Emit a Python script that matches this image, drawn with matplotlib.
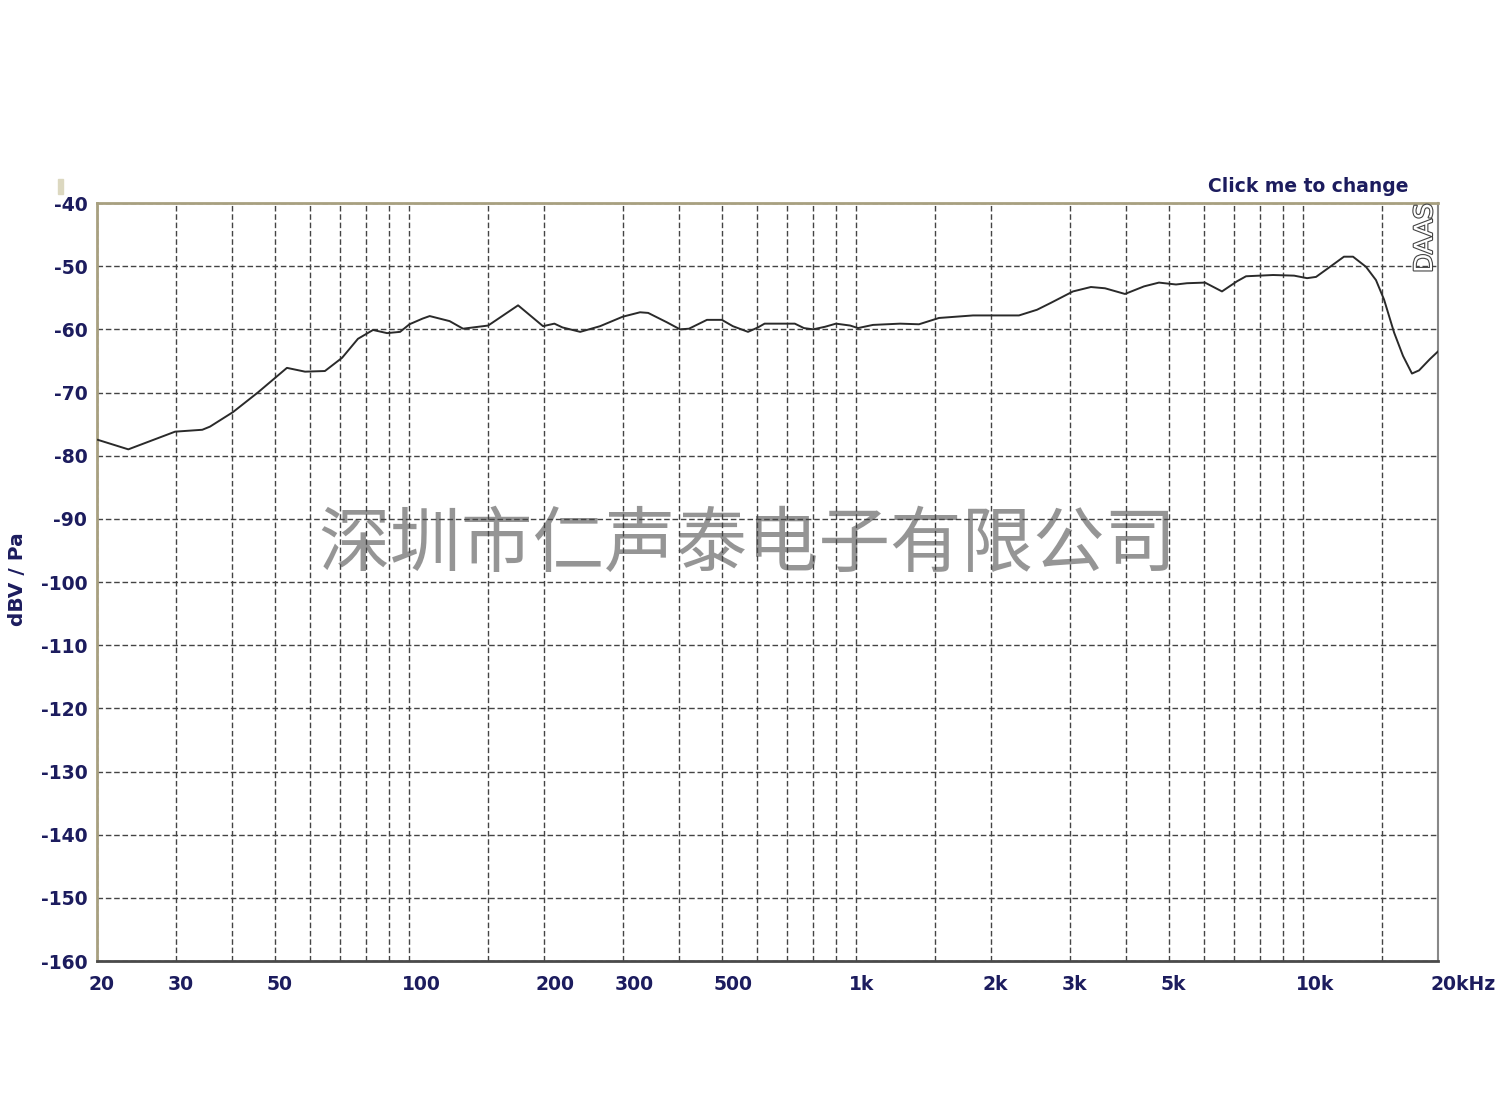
import numpy as np
import matplotlib
matplotlib.use("Agg")
import matplotlib.pyplot as plt
import matplotlib.transforms as mtransforms
import matplotlib.patheffects as pe
from matplotlib.patches import Rectangle

plt.rcParams['font.family'] = ['DejaVu Sans', 'Noto Sans CJK SC']

# response curve (Hz, dBV/Pa)
freq = [20.1, 23.5, 29.9, 34.4, 35.8, 40.3, 45.8, 53.2, 58.4, 64.7,
        70.7, 76.7, 82.9, 89.1, 95.3, 100, 107, 111, 123, 131.8,
        150, 175, 199, 211, 220, 241, 267, 300, 328, 342,
        377, 403, 422, 463, 500, 529, 572, 602, 623, 728,
        763, 800, 850, 900, 968, 1008, 1089, 1252, 1380, 1530,
        1823, 2310, 2535, 2724, 3051, 3346, 3598, 3988, 4399, 4751,
        5187, 5489, 6022, 6573, 7100, 7440, 8550, 9530, 10190, 10670,
        11470, 12320, 12910, 13800, 14530, 15150, 15950, 16700, 17490, 18140,
        19190, 20000]
level = [-77.5, -79.0, -76.2, -75.9, -75.4, -73.1, -70.0, -66.1, -66.7, -66.6,
         -64.5, -61.5, -60.1, -60.6, -60.4, -59.2, -58.3, -57.9, -58.7, -59.9,
         -59.4, -56.2, -59.5, -59.1, -59.7, -60.4, -59.5, -58.0, -57.3, -57.4,
         -58.9, -60.0, -59.9, -58.5, -58.5, -59.5, -60.4, -59.7, -59.1, -59.1,
         -59.8, -60.0, -59.6, -59.1, -59.4, -59.8, -59.3, -59.1, -59.2, -58.2,
         -57.8, -57.8, -56.9, -55.8, -54.0, -53.3, -53.5, -54.4, -53.2, -52.6,
         -52.9, -52.7, -52.6, -54.0, -52.4, -51.6, -51.4, -51.5, -51.9, -51.7,
         -50.1, -48.5, -48.5, -50.1, -52.2, -55.3, -60.5, -64.2, -67.0, -66.5,
         -64.7, -63.5]

x_ticks = [20, 30, 50, 100, 200, 300, 500, 1000, 2000, 3000, 5000, 10000, 20000]
x_labels = ['20', '30', '50', '100', '200', '300', '500', '1k', '2k', '3k', '5k', '10k', '20kHz']
x_grid = [20, 30, 40, 50, 60, 70, 80, 90, 100, 150, 200, 300, 400, 500, 600, 700, 800, 900,
          1000, 1500, 2000, 3000, 4000, 5000, 6000, 7000, 8000, 9000, 10000, 15000, 20000]
y_ticks = list(range(-160, -39, 10))

navy = '#1c1c5e'

fig = plt.figure(figsize=(15, 11.17), dpi=100)
ax = fig.add_axes([97/1500, 1-961/1117, (1438-97)/1500, (961-203)/1117])

ax.set_xscale('log')
ax.set_xlim(20, 20000)
ax.set_ylim(-160, -40)

for g in x_grid:
    ax.axvline(g, color='#444444', lw=1.0, ls=(0, (4, 2)), zorder=1)
for g in y_ticks:
    ax.axhline(g, color='#444444', lw=1.0, ls=(0, (4, 2)), zorder=1)

ax.plot(freq, level, color='#2a2a2a', lw=1.4, zorder=3)

# watermark sits under the grid
ax.text(747/1500, 1-545/1117, '深圳市仁声泰电子有限公司', ha='center', va='center',
        color='#8a8a8a', alpha=0.9, fontsize=51.5, family=['Noto Sans CJK SC', 'DejaVu Sans'],
        transform=fig.transFigure, zorder=0.5)

ax.set_yticks(y_ticks)
ax.set_yticklabels([str(v) for v in y_ticks])
ax.set_xticks(x_ticks)
ax.set_xticklabels(x_labels)
ax.xaxis.set_minor_locator(matplotlib.ticker.NullLocator())
ax.tick_params(axis='both', length=0, labelcolor=navy, labelsize=13.5)
ax.tick_params(axis='y', pad=7)
ax.tick_params(axis='x', pad=10)
for lab in ax.get_yticklabels() + ax.get_xticklabels():
    lab.set_fontweight('bold')
shift = mtransforms.ScaledTranslation(-8/100, 0, fig.dpi_scale_trans)
for lab in ax.get_xticklabels():
    lab.set_horizontalalignment('left')
    lab.set_transform(lab.get_transform() + shift)

ax.spines['left'].set_color('#a8a080')
ax.spines['top'].set_color('#a8a080')
ax.spines['left'].set_linewidth(2)
ax.spines['top'].set_linewidth(2)
ax.spines['bottom'].set_color('#4a4a4a')
ax.spines['bottom'].set_linewidth(2)
ax.spines['right'].set_color('#888888')
ax.spines['right'].set_linewidth(1.5)

fig.text(18/1500, 1-579/1117, 'dBV / Pa', rotation=90, ha='center', va='center',
         color=navy, fontsize=14.5, fontweight='bold')
fig.text(1308/1500, 1-187/1117, 'Click me to change', ha='center', va='center',
         color=navy, fontsize=13.5, fontweight='bold')
fig.text(1425/1500, 1-238/1117, 'DAAS', rotation=90, ha='center', va='center',
         color='white', fontsize=18,
         path_effects=[pe.withStroke(linewidth=1.6, foreground='#444444')])

fig.patches.append(Rectangle((58/1500, 1-194/1117), 5/1500, 15/1117,
                             transform=fig.transFigure, color='#dcd8c0'))

fig.savefig('out.png', dpi=100, facecolor='white')
